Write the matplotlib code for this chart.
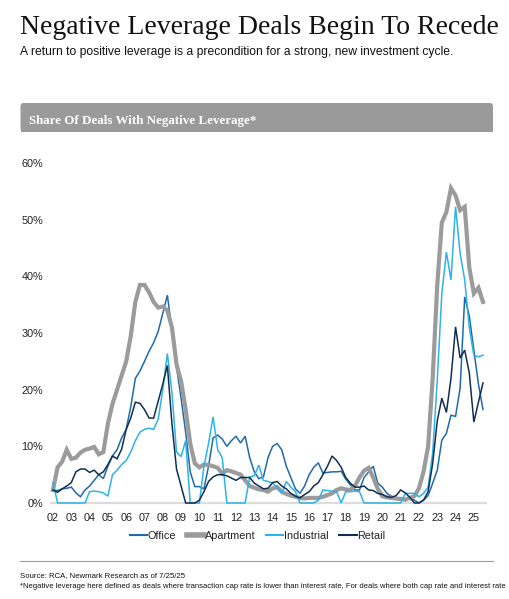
import numpy as np
import matplotlib
matplotlib.use("Agg")
import matplotlib.pyplot as plt
from matplotlib.patches import FancyBboxPatch, Rectangle
from matplotlib.lines import Line2D

plt.rcParams["font.family"] = ["Liberation Sans", "DejaVu Sans"]

# ── Data: quarterly share of deals with negative leverage (%), 2002Q1 - 2025Q3 ──
years = [f"{y:02d}" for y in range(2, 26)]

office = [
    2.3, 2.2, 2.5, 2.6, 2.8, 1.8, 1.1, 2.3, 3.0, 4.0,
    5.0, 4.3, 6.5, 8.3, 9.4, 11.5, 13.0, 17.0, 22.0, 23.3,
    25.0, 26.8, 28.3, 30.3, 33.5, 36.7, 30.5, 24.0, 18.5, 12.5,
    5.5, 2.9, 2.9, 2.5, 6.5, 11.5, 12.0, 11.3, 10.0, 11.0,
    11.8, 10.6, 11.8, 8.0, 5.5, 4.3, 4.6, 8.0, 10.0, 10.5,
    9.4, 6.5, 4.5, 2.5, 1.7, 3.0, 5.0, 6.3, 7.1, 5.3,
    5.4, 5.5, 5.5, 5.6, 4.2, 3.2, 2.3, 2.3, 4.5, 5.5,
    6.5, 3.5, 2.8, 1.7, 1.2, 0.9, 0.6, 0.4, 0.9, 0.5,
    0.0, 0.5, 1.3, 3.5, 5.8, 11.1, 12.3, 15.5, 15.3, 20.3,
    36.4, 33.0, 27.0, 21.0, 16.5,
]

apartment = [
    2.3, 6.3, 7.3, 9.4, 7.8, 8.0, 8.9, 9.4, 9.6, 9.9,
    8.6, 9.0, 14.0, 17.5, 20.0, 22.5, 25.0, 29.5, 35.5, 38.5,
    38.5, 37.2, 35.5, 34.5, 34.7, 34.0, 31.0, 24.5, 21.5, 16.5,
    10.5, 7.0, 6.3, 6.8, 6.7, 6.5, 6.2, 5.2, 5.8, 5.6,
    5.3, 5.0, 4.0, 3.0, 2.7, 2.4, 2.3, 2.0, 2.6, 2.8,
    2.0, 1.6, 1.3, 1.1, 0.9, 0.8, 0.9, 0.9, 0.9, 1.1,
    1.4, 1.7, 2.3, 2.6, 2.4, 2.3, 3.0, 4.5, 5.7, 6.2,
    4.5, 2.5, 1.2, 1.0, 0.9, 0.8, 0.7, 0.6, 0.9, 1.2,
    2.6, 5.5, 10.0, 22.0, 38.5, 49.5, 51.4, 55.6, 54.3, 51.7,
    52.3, 41.6, 37.0, 38.0, 35.5,
]

industrial = [
    3.6, 0.0, 0.0, 0.0, 0.0, 0.0, 0.0, 0.0, 2.0, 2.1,
    2.0, 1.8, 1.2, 5.0, 5.8, 6.8, 7.5, 9.0, 11.0, 12.5,
    13.0, 13.2, 13.0, 14.8, 20.0, 26.4, 19.5, 9.0, 8.2, 11.0,
    0.0, 0.0, 0.0, 6.5, 10.5, 15.2, 9.4, 8.0, 0.0, 0.0,
    0.0, 0.0, 0.0, 4.6, 4.8, 6.7, 4.0, 3.8, 3.5, 2.8,
    1.7, 3.8, 2.8, 2.0, 0.0, 0.0, 0.0, 0.0, 0.5, 2.3,
    2.2, 2.1, 2.0, 0.0, 2.0, 2.0, 2.1, 2.0, 0.0, 0.0,
    0.0, 0.0, 0.0, 0.0, 0.0, 0.0, 0.0, 1.7, 1.7, 1.7,
    1.1, 1.7, 2.8, 8.8, 21.7, 37.0, 44.3, 39.4, 52.3, 44.1,
    39.4, 31.0, 26.1, 25.8, 26.1,
]

retail = [
    2.3, 1.9, 2.5, 3.0, 3.6, 5.5, 6.0, 6.0, 5.4, 5.8,
    5.0, 5.5, 6.8, 8.3, 7.8, 9.5, 13.0, 15.0, 17.8, 17.6,
    16.5, 15.0, 15.0, 18.0, 21.0, 24.3, 14.0, 6.0, 3.0, 0.0,
    0.0, 0.0, 0.5, 2.0, 3.8, 4.6, 5.0, 5.0, 4.8, 4.4,
    4.0, 4.5, 4.5, 4.5, 3.5, 3.0, 2.5, 2.6, 3.6, 3.8,
    3.0, 2.5, 1.7, 1.2, 0.9, 1.5, 2.0, 3.0, 3.6, 5.0,
    6.5, 8.3, 7.5, 6.3, 4.5, 3.5, 2.8, 2.8, 3.0, 2.3,
    2.2, 1.7, 1.5, 1.1, 1.0, 1.3, 2.3, 1.8, 1.0, 0.0,
    0.0, 0.5, 2.0, 7.0, 14.5, 18.5, 16.0, 22.0, 31.1, 25.6,
    27.0, 23.0, 14.3, 17.8, 21.2,
]

series = [
    ("Office", office, "#1f6aab", 1.1),
    ("Apartment", apartment, "#9b9b9b", 3.0),
    ("Industrial", industrial, "#2db3e8", 1.1),
    ("Retail", retail, "#0f2f52", 1.1),
]

# ── Figure ────────────────────────────────────────────
W, H = 510, 599
fig = plt.figure(figsize=(W / 100, H / 100), dpi=100)

def fx(px):
    return px / W

def fy(py):
    return 1 - py / H

fig.text(fx(20), fy(33.5), "Negative Leverage Deals Begin To Recede",
         family=["Liberation Serif", "DejaVu Serif"], fontsize=19.95,
         color="#111111", va="baseline", ha="left")
fig.text(fx(20.5), fy(55), "A return to positive leverage is a precondition for a strong, new investment cycle.",
         fontsize=8.75, color="#111111", va="baseline", ha="left")

# gray banner with rounded top corners
banner = FancyBboxPatch((fx(20.5), fy(131.5)), fx(493) - fx(20.5), fy(103) - fy(131.5),
                        boxstyle="round,pad=0,rounding_size=0.006",
                        transform=fig.transFigure, facecolor="#9a9a9a",
                        edgecolor="none")
fig.patches.append(banner)
fig.patches.append(Rectangle((fx(20.5), fy(131.5)), fx(493) - fx(20.5), fy(118) - fy(131.5),
                             transform=fig.transFigure, facecolor="#9a9a9a",
                             edgecolor="none"))
fig.text(fx(29), fy(124), "Share Of Deals With Negative Leverage*",
         family=["Liberation Serif", "DejaVu Serif"], fontsize=9.4,
         fontweight="bold", color="white", va="baseline", ha="left")

# ── Chart ─────────────────────────────────────────────
ax = fig.add_axes([fx(50), fy(506.4), fx(487) - fx(50), fy(151.9) - fy(506.4)])
x = np.arange(len(office))
ax.axhline(0, color="#dcdcdc", lw=1.6, zorder=0)
for name, vals, col, lw in series:
    ax.plot(x, vals, color=col, lw=lw, label=name, solid_joinstyle="miter")

ax.set_xlim(-0.656, 94.875)
ax.set_ylim(-0.6, 62)
ax.set_xticks(np.arange(0, len(years) * 4, 4))
ax.set_xticklabels(years)
ax.set_yticks(np.arange(0, 61, 10))
ax.set_yticklabels([f"{v}%" for v in range(0, 61, 10)])
ax.tick_params(length=0, labelsize=7.8, colors="#222222")
ax.tick_params(axis="y", pad=5)
ax.tick_params(axis="x", pad=5)
for s in ax.spines.values():
    s.set_visible(False)

handles = [Line2D([0], [0], color=col, lw=(4 if name == "Apartment" else 1.5))
           for name, vals, col, lw in series]
fig.legend(handles, [s[0] for s in series], loc="center",
           bbox_to_anchor=(fx(257.5), fy(536)), ncol=4, frameon=False,
           fontsize=7.8, handlelength=1.6, handletextpad=0.05,
           columnspacing=1.0, labelcolor="#222222")

# ── Footer ────────────────────────────────────────────
fig.add_artist(Line2D([fx(20), fx(493)], [fy(560.5), fy(560.5)],
                      transform=fig.transFigure, color="#9a9a9a", lw=0.8))
fig.text(fx(20.5), fy(577), "Source: RCA, Newmark Research as of 7/25/25",
         fontsize=5.6, color="#111111", va="baseline", ha="left")
fig.text(fx(20.5), fy(588), "*Negative leverage here defined as deals where transaction cap rate is lower "
         "than interest rate, For deals where both cap rate and interest rate",
         fontsize=5.5, color="#111111", va="baseline", ha="left")

fig.savefig("out.png", dpi=100)
